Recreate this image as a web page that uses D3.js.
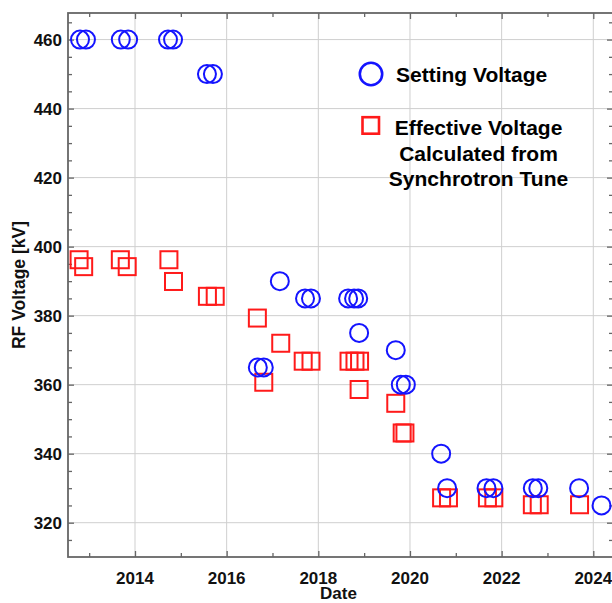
<!DOCTYPE html>
<html>
<head>
<meta charset="utf-8">
<script src="https://cdn.jsdelivr.net/npm/d3@7"></script>
<style>
  body { margin: 0; background: #fff; }
  svg { display: block; font-family: "Liberation Sans", Arial, sans-serif; font-weight: bold; }
</style>
</head>
<body>
<svg id="chart" width="612" height="603"></svg>
<script>
// data (dates as decimal years)
var settingDates  = [2012.80, 2012.93, 2013.69, 2013.85, 2014.72, 2014.83, 2015.57, 2015.70, 2016.68, 2016.81, 2017.16, 2017.71, 2017.84, 2018.65, 2018.78, 2018.87, 2018.89, 2019.69, 2019.80, 2019.91, 2020.68, 2020.81, 2021.67, 2021.82, 2022.68, 2022.80, 2023.69, 2024.18];
var settingValues = [460, 460, 460, 460, 460, 460, 450, 450, 365, 365, 390, 385, 385, 385, 385, 385, 375, 370, 360, 360, 340, 330, 330, 330, 330, 330, 330, 325];
var effectiveDates  = [2012.78, 2012.88, 2013.68, 2013.83, 2014.74, 2014.84, 2015.58, 2015.75, 2016.67, 2016.81, 2017.18, 2017.67, 2017.84, 2018.67, 2018.80, 2018.90, 2018.89, 2019.69, 2019.83, 2019.89, 2020.69, 2020.84, 2021.69, 2021.83, 2022.67, 2022.82, 2023.70];
var effectiveValues = [396.2, 394.2, 396.2, 394.2, 396.2, 389.9, 385.6, 385.6, 379.3, 360.7, 372.0, 366.8, 366.8, 366.8, 366.8, 366.8, 358.6, 354.6, 346.0, 346.0, 327.2, 327.2, 327.2, 327.2, 325.2, 325.2, 325.2];
var xMajorTicks = [2014, 2016, 2018, 2020, 2022, 2024];
var xMinorTicks = [2013, 2015, 2017, 2019, 2021, 2023];
var yMajorTicks = [320, 340, 360, 380, 400, 420, 440, 460];
var yMinorTicks = [315, 325, 330, 335, 345, 350, 355, 365, 370, 375, 385, 390, 395, 405, 410, 415, 425, 430, 435, 445, 450, 455, 465];
var legendSetting = ["Setting Voltage"];
var legendEffective = ["Effective Voltage", "Calculated from", "Synchrotron Tune"];

var plotLeft = 68, plotRight = 613, plotTop = 13, plotBottom = 557;
var blue = "#1414ff", red = "#ff1a1a";

var svg = d3.select("#chart");
var x = d3.scaleLinear().domain([2012.538, 2024.43]).range([plotLeft, plotRight]);
var y = d3.scaleLinear().domain([310.06, 467.7]).range([plotBottom, plotTop]);

//gridlines
svg.append("g").selectAll("line").data(xMajorTicks).enter().append("line")
  .attr("x1", d => x(d)).attr("x2", d => x(d)).attr("y1", plotTop).attr("y2", plotBottom)
  .attr("stroke", "#cfcfcf").attr("stroke-width", 1);
svg.append("g").selectAll("line").data(yMajorTicks).enter().append("line")
  .attr("x1", plotLeft).attr("x2", plotRight).attr("y1", d => y(d)).attr("y2", d => y(d))
  .attr("stroke", "#cfcfcf").attr("stroke-width", 1);

//axes: ticks point inwards on all four sides
function frameAxis(axisFn, scale, transform, vals, size) {
  svg.append("g").attr("transform", transform)
    .call(axisFn(scale).tickValues(vals).tickSize(size).tickFormat(""))
    .call(g => g.select(".domain").remove())
    .selectAll("line").attr("stroke", "#666").attr("stroke-width", 1.3);
}
frameAxis(d3.axisBottom, x, "translate(0," + plotBottom + ")", xMajorTicks, -6);
frameAxis(d3.axisBottom, x, "translate(0," + plotBottom + ")", xMinorTicks, -4);
frameAxis(d3.axisTop, x, "translate(0," + plotTop + ")", xMajorTicks, -6);
frameAxis(d3.axisTop, x, "translate(0," + plotTop + ")", xMinorTicks, -4);
frameAxis(d3.axisLeft, y, "translate(" + plotLeft + ",0)", yMajorTicks, -6);
frameAxis(d3.axisLeft, y, "translate(" + plotLeft + ",0)", yMinorTicks, -4);
frameAxis(d3.axisRight, y, "translate(" + plotRight + ",0)", yMajorTicks, -6);
frameAxis(d3.axisRight, y, "translate(" + plotRight + ",0)", yMinorTicks, -4);

svg.append("rect").attr("x", plotLeft).attr("y", plotTop).attr("width", plotRight - plotLeft).attr("height", plotBottom - plotTop)
  .attr("fill", "none").attr("stroke", "#666").attr("stroke-width", 1.8);

//tick labels
svg.append("g").selectAll("text").data(xMajorTicks).enter().append("text")
  .attr("x", d => x(d)).attr("y", 584).attr("text-anchor", "middle")
  .attr("font-size", 17).attr("fill", "#111").text(d => d);
svg.append("g").selectAll("text").data(yMajorTicks).enter().append("text")
  .attr("x", 62).attr("y", d => y(d) + 6).attr("text-anchor", "end")
  .attr("font-size", 17).attr("fill", "#111").text(d => d);

//axis titles
svg.append("text").attr("x", (plotLeft + plotRight) / 2 - 2).attr("y", 599).attr("text-anchor", "middle")
  .attr("font-size", 17).attr("fill", "#111").text("Date");
svg.append("text").attr("transform", "translate(25," + (plotTop + plotBottom) / 2 + ") rotate(-90)")
  .attr("text-anchor", "middle").attr("font-size", 17.5).attr("fill", "#111").text("RF Voltage [kV]");

//markers
var sq = 17;
svg.append("g").selectAll("rect").data(effectiveDates).enter().append("rect")
  .attr("x", (d, i) => x(d) - sq / 2).attr("y", (d, i) => y(effectiveValues[i]) - sq / 2)
  .attr("width", sq).attr("height", sq)
  .attr("fill", "none").attr("stroke", red).attr("stroke-width", 2);
svg.append("g").selectAll("circle").data(settingDates).enter().append("circle")
  .attr("cx", d => x(d)).attr("cy", (d, i) => y(settingValues[i])).attr("r", 9)
  .attr("fill", "none").attr("stroke", blue).attr("stroke-width", 2);

//legend
svg.append("circle").attr("cx", 371).attr("cy", 74).attr("r", 11.2)
  .attr("fill", "none").attr("stroke", blue).attr("stroke-width", 2.6);
svg.append("text").attr("x", 396).attr("y", 82).attr("font-size", 21).attr("fill", "#000").text(legendSetting[0]);
svg.append("rect").attr("x", 362.5).attr("y", 117.2).attr("width", 16.5).attr("height", 16.5)
  .attr("fill", "none").attr("stroke", red).attr("stroke-width", 2.6);
svg.append("g").selectAll("text").data(legendEffective).enter().append("text")
  .attr("x", 478.5).attr("y", (d, i) => 135 + i * 25.5).attr("text-anchor", "middle")
  .attr("font-size", 21).attr("fill", "#000").text(d => d);
</script>
</body>
</html>
